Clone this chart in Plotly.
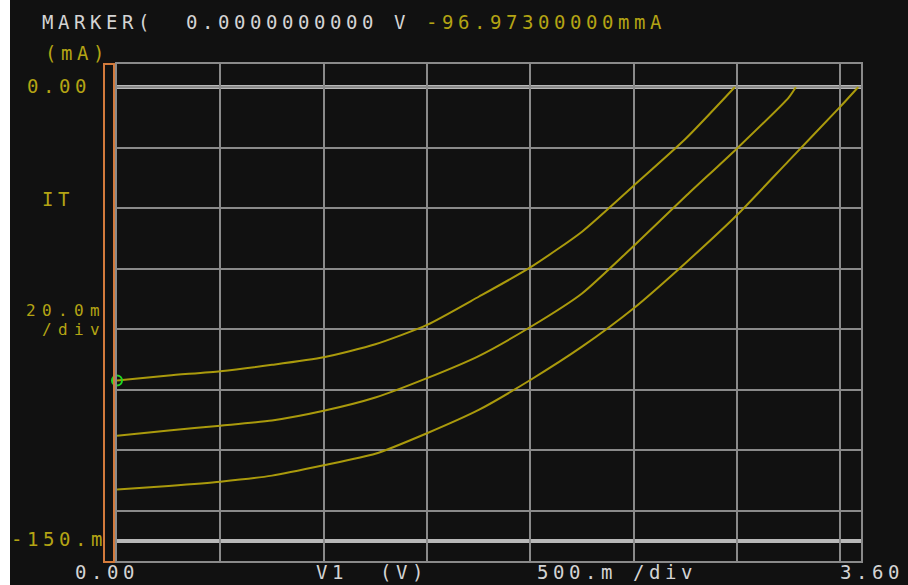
import plotly.graph_objects as go

# Sweep voltage V1 (V) and measured current IT (mA) for three curves
v_curve1 = [0.0, 0.25, 0.5, 0.75, 1.0, 1.25, 1.5, 1.75, 2.0, 2.25, 2.5, 2.75, 2.99]
i_curve1 = [-96.97, -95.3, -93.9, -91.8, -89.3, -85.0, -78.6, -69.3, -59.6, -47.8, -32.6, -17.2, 0.0]

v_curve2 = [0.0, 0.25, 0.5, 0.75, 1.0, 1.25, 1.5, 1.75, 2.0, 2.25, 2.5, 2.75, 3.0, 3.25, 3.285]
i_curve2 = [-115.2, -113.5, -111.9, -110.2, -107.0, -102.6, -96.2, -88.9, -79.3, -68.2, -52.5, -36.2, -20.3, -3.5, 0.0]

v_curve3 = [0.0, 0.25, 0.5, 0.75, 1.0, 1.25, 1.5, 1.75, 2.0, 2.25, 2.5, 2.75, 3.0, 3.25, 3.5, 3.587]
i_curve3 = [-133.0, -131.8, -130.4, -128.4, -125.0, -121.2, -114.4, -106.7, -96.8, -85.8, -73.1, -58.2, -42.3, -24.4, -6.5, 0.0]

marker_v = [0.0]
marker_i = [-96.973]

# Display scale
x_min, x_max, x_div = 0.0, 3.6, 0.5
y_top, y_bottom, y_div = 0.0, -150.0, 20.0

W, H = 908, 585
L, R, T, B = 117, 47, 64, 24
PW, PH = W - L - R, H - T - B

BG = "#111111"
GRID = "#8a8a8a"
BRIGHT = "#b8b8b8"
YEL = "#b4a414"
CURVE = "#aa9a0c"
WHITE = "#d4d4d4"
ORANGE = "#d27a3c"
FONT = "DejaVu Sans Mono"
FS = 19


def px(x):
    return (x - L) / PW


def py(y):
    return (H - B - y) / PH


fig = go.Figure()
for v, i in [(v_curve1, i_curve1), (v_curve2, i_curve2), (v_curve3, i_curve3)]:
    fig.add_trace(go.Scatter(
        x=v, y=i, mode="lines",
        line=dict(color=CURVE, width=2, shape="spline", smoothing=0.6),
        hoverinfo="skip", showlegend=False,
    ))
fig.add_trace(go.Scatter(
    x=marker_v, y=marker_i, mode="markers",
    marker=dict(symbol="circle-open", size=10, color="#22d622", line=dict(width=2)),
    cliponaxis=False, showlegend=False, hoverinfo="skip",
))

shapes = [
    # bright lines at the top and bottom of the current scale
    dict(type="line", xref="paper", yref="y", x0=0, x1=1, y0=y_top, y1=y_top,
         line=dict(color=BRIGHT, width=4), layer="below"),
    dict(type="line", xref="paper", yref="y", x0=0, x1=1, y0=y_bottom, y1=y_bottom,
         line=dict(color=BRIGHT, width=4), layer="below"),
    # orange bar at the left of the plot
    dict(type="rect", xref="paper", yref="paper", x0=px(104), x1=px(114), y0=py(562), y1=py(64),
         line=dict(color=ORANGE, width=2), fillcolor="rgba(0,0,0,0)"),
    # white strip on the left edge
    dict(type="rect", xref="paper", yref="paper", x0=px(0), x1=px(10), y0=py(H), y1=py(0),
         line=dict(width=0), fillcolor="#ffffff"),
]


def label(text, x, y, color, size=FS, pitch=16.0):
    # monospace text laid out on a fixed character pitch
    spacing = pitch - 0.602 * size
    return dict(
        text=f'<span style="letter-spacing:{spacing:.2f}px">{text}</span>',
        xref="paper", yref="paper", x=px(x), y=py(y),
        xanchor="left", yanchor="middle", showarrow=False,
        font=dict(family=FONT, size=size, color=color),
        borderpad=0, borderwidth=0,
    )


nb = "\u00a0"
annotations = [
    label(f"MARKER({nb}{nb}0.0000000000{nb}V", 42, 21.5, WHITE),
    label("-96.97300000mmA", 426, 21.5, YEL),
    label("(mA)", 45, 53, YEL),
    label("0.00", 27, 85.5, YEL),
    label("IT", 42, 199.5, YEL),
    label("20.0m", 26, 310, YEL, size=16),
    label("/div", 42, 329.5, YEL, size=16),
    label("-150.m", 11, 539, YEL),
    label("0.00", 75, 571.5, WHITE),
    label(f"V1{nb}{nb}(V)", 316, 571.5, WHITE),
    label(f"500.m{nb}/div", 537, 571.5, WHITE),
    label("3.60", 840, 571.5, WHITE),
]

y_lo = y_bottom - 20 / 3.027
y_hi = y_top + 23 / 3.027

fig.update_layout(
    width=W, height=H,
    margin=dict(l=L, r=R, t=T, b=B, pad=0),
    paper_bgcolor=BG, plot_bgcolor=BG,
    shapes=shapes, annotations=annotations,
    xaxis=dict(range=[x_min, x_max], tick0=0, dtick=x_div, showgrid=True,
               gridcolor=GRID, gridwidth=2, zeroline=False, showticklabels=False,
               ticks="", showline=True, mirror=True, linecolor=GRID, linewidth=2,
               fixedrange=True),
    yaxis=dict(range=[y_lo, y_hi], tick0=0, dtick=y_div, showgrid=True,
               gridcolor=GRID, gridwidth=2, zeroline=False, showticklabels=False,
               ticks="", showline=True, mirror=True, linecolor=GRID, linewidth=2,
               fixedrange=True),
)

fig.write_html("out.html", config={"displayModeBar": False})
